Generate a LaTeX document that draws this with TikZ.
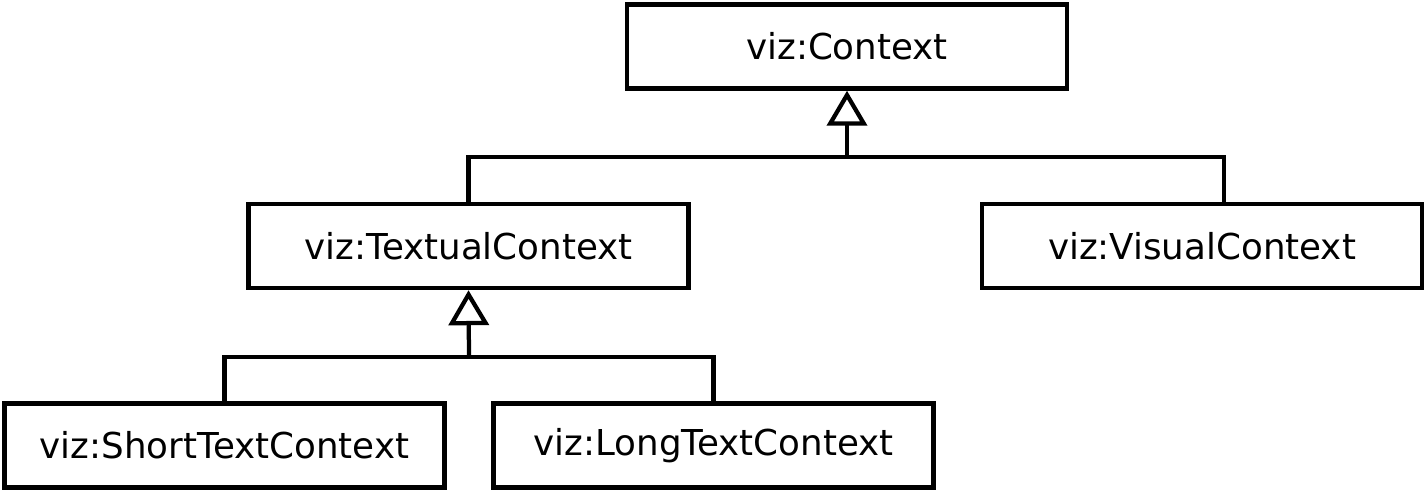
\documentclass[tikz,border=0pt]{standalone}
\usepackage{fontspec}
\setmainfont{DejaVu Sans}
\usetikzlibrary{arrows.meta}
\begin{document}
\begin{tikzpicture}[x=0.02cm,y=-0.02cm,
  cls/.style={draw=black,line width=0.09cm,fill=white,minimum width=8.8cm,minimum height=1.68cm,inner sep=0pt,font=\fontsize{20.3}{24}\selectfont},
  conn/.style={draw=black,line width=0.085cm},
  gen/.style={conn,-{Triangle[open,length=0.7cm,width=0.8cm,line width=0.085cm]}}]
\useasboundingbox (0,0) rectangle (1427,493);
\node[cls] (ctx) at (847,46.5) {viz:Context};
\node[cls] (tc) at (468.5,246) {viz:TextualContext};
\node[cls] (vc) at (1202,246) {viz:VisualContext};
\node[cls] (sc) at (224.5,445.5) {viz:ShortTextContext};
\node[cls] (lc) at (713.5,445.5) {viz:LongTextContext};
\coordinate (j1) at (847,157);
\coordinate (j2) at (469,357);
\coordinate (vtop) at ([xshift=0.44cm]vc.north);
\draw[gen] (j1) -- (ctx.south);
\draw[conn] (tc.north) |- (j1) -| (vtop);
\draw[gen] (j2) -- (tc.south);
\draw[conn] (sc.north) |- (j2) -| (lc.north);
\end{tikzpicture}
\end{document}
